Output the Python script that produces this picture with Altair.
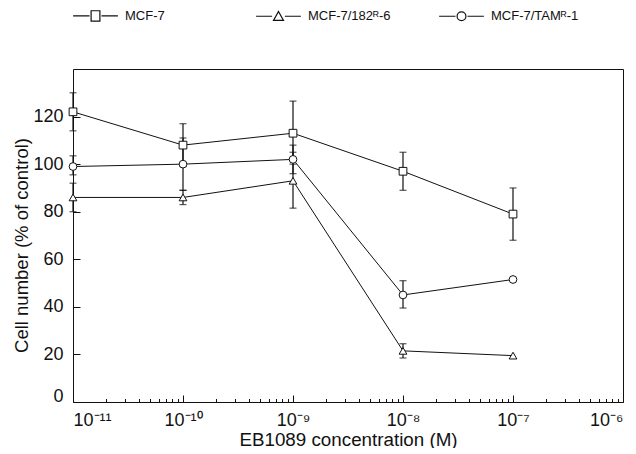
import altair as alt
import pandas as pd

# ---- data ----
conc = [1e-11, 1e-10, 1e-9, 1e-8, 1e-7]
series_names = ["MCF-7", "MCF-7/182ᴿ-6", "MCF-7/TAMᴿ-1"]

mcf7 = [122, 108, 113, 97, 79]
mcf7_lo = [114, 99, 100, 89, 68]
mcf7_hi = [130, 117, 126.5, 105, 90]

r182 = [86, 86, 93, 21.5, 19.5]
r182_lo = [80, 83, 81.5, 18.5, None]
r182_hi = [92, 89, 105, 24.5, None]

tam = [99, 100, 102, 45, 51.5]
tam_lo = [95.5, 89, 96, 39.5, None]
tam_hi = [103.5, 111, 108, 51, None]

y_ticks = [0, 20, 40, 60, 80, 100, 120]
x_exponents = [-11, -10, -9, -8, -7, -6]

# ---- table ----
rows = []
for name, vals, los, his in [
    (series_names[0], mcf7, mcf7_lo, mcf7_hi),
    (series_names[1], r182, r182_lo, r182_hi),
    (series_names[2], tam, tam_lo, tam_hi),
]:
    for c, v, lo, hi in zip(conc, vals, los, his):
        rows.append({"conc": c, "value": v, "lo": lo, "hi": hi, "series": name})
df = pd.DataFrame(rows)

sup = {"-": "⁻", "0": "⁰", "1": "¹", "2": "²", "3": "³", "4": "⁴",
       "5": "⁵", "6": "⁶", "7": "⁷", "8": "⁸", "9": "⁹"}
x_major = [10.0 ** e for e in x_exponents]
x_labels = ["10" + "".join(sup[ch] for ch in str(e)) for e in x_exponents]
x_minor = [k * 10.0 ** e for e in x_exponents[:-1] for k in range(2, 10)]
label_expr = "[" + ",".join("'" + s + "'" for s in x_labels) + "][round(log(datum.value)/LN10) + " + str(-x_exponents[0]) + "]"

W, H = 550, 333
FONT = "Liberation Sans"

xscale = alt.Scale(type="log", domain=[1e-11, 1e-6])
yscale = alt.Scale(domain=[0, 140], nice=False, zero=False)

base = alt.Chart(df)

# main lines with label axes
lines = base.mark_line(color="#111", strokeWidth=1).encode(
    x=alt.X("conc:Q", scale=xscale,
            axis=alt.Axis(orient="bottom", values=x_major, labelExpr=label_expr,
                          ticks=False, domain=False, grid=False,
                          labelFontSize=18, labelPadding=9, labelColor="#111",
                          title="EB1089 concentration (M)", titleFontSize=18.8,
                          titleFontWeight="normal", titleColor="#111",
                          titleY=37, titleBaseline="middle")),
    y=alt.Y("value:Q", scale=yscale,
            axis=alt.Axis(orient="left", values=y_ticks, ticks=False, domain=False,
                          grid=False, labelFontSize=18, labelPadding=10, labelColor="#111",
                          labelOffset={"condition": {"test": "datum.value === 0", "value": -6}, "value": 0},
                          title="Cell number (% of control)", titleFontSize=18.5,
                          titleFontWeight="normal", titleColor="#111",
                          titleX=-52, titleY=176, titleBaseline="middle")),
    detail="series:N",
)

# error bars (vertical rules) carry the minor tick axis
rules = base.transform_filter("isValid(datum.lo)").mark_rule(color="#111", strokeWidth=1.2).encode(
    x=alt.X("conc:Q", scale=xscale,
            axis=alt.Axis(orient="top", offset=-H, values=x_minor, tickSize=3.5,
                          tickColor="#111", labels=False, domain=False, grid=False, title=None)),
    y=alt.Y("lo:Q", scale=yscale, axis=None),
    y2="hi:Q",
)
cap_lo = base.transform_filter("isValid(datum.lo)").mark_tick(
    color="#111", size=7, thickness=1.2, orient="horizontal").encode(
    x=alt.X("conc:Q", scale=xscale, axis=None),
    y=alt.Y("lo:Q", scale=yscale, axis=None),
)
cap_hi = base.transform_filter("isValid(datum.hi)").mark_tick(
    color="#111", size=7, thickness=1.2, orient="horizontal").encode(
    x=alt.X("conc:Q", scale=xscale, axis=None),
    y=alt.Y("hi:Q", scale=yscale, axis=None),
)

# visible markers carry the inward major ticks
points = base.mark_point(filled=False, fill="white", fillOpacity=1, stroke="#111",
                         strokeWidth=1, size=60, opacity=1).encode(
    x=alt.X("conc:Q", scale=xscale,
            axis=alt.Axis(orient="top", offset=-H, values=x_major, tickSize=7,
                          tickColor="#111", labels=False, domain=False, grid=False, title=None)),
    y=alt.Y("value:Q", scale=yscale,
            axis=alt.Axis(orient="right", offset=-W, values=y_ticks, tickSize=7,
                          tickColor="#111", labels=False, domain=False, grid=False, title=None)),
    shape=alt.Shape("series:N", sort=series_names,
                    scale=alt.Scale(domain=series_names,
                                    range=["square", "triangle-up", "circle"]),
                    legend=None),
)

# invisible layer that only supplies the legend (symbol with line through it)
legend_paths = [
    "M-5.6,0H-1.5M1.5,0H5.6M-1.1,-1.3H1.1V1.3H-1.1Z",
    "M-5.6,0H-1.6M1.6,0H5.6M0,-1.2L1.25,1.05H-1.25Z",
    "M-5.6,0H-1.5M1.5,0H5.6M1.1,0A1.1,1.1,0,1,1,-1.1,0A1.1,1.1,0,1,1,1.1,0Z",
]
legend_layer = base.mark_point(opacity=0, size=64).encode(
    x=alt.X("conc:Q", scale=xscale, axis=None),
    y=alt.Y("value:Q", scale=yscale, axis=None),
    shape=alt.Shape("series:N", sort=series_names,
                    scale=alt.Scale(domain=series_names, range=legend_paths),
                    legend=alt.Legend(orient="none", legendX=-2, legendY=-60,
                                      direction="horizontal", columns=3, title=None,
                                      symbolSize=64, symbolOffset=18, labelOffset=23,
                                      symbolOpacity=1, symbolFillColor="white",
                                      symbolStrokeColor="#111", symbolStrokeWidth=1.2,
                                      labelFontSize=13, labelColor="#111",
                                      gridAlign="all", columnPadding=40, padding=0)),
)

chart = alt.layer(lines, rules, cap_lo, cap_hi, points, legend_layer).resolve_axis(
    x="independent", y="independent"
).resolve_scale(shape="independent").properties(
    width=W, height=H,
    autosize=alt.AutoSizeParams(type="none"),
    padding={"left": 65, "top": 61, "right": 5, "bottom": 46},
).configure(font=FONT).configure_view(stroke="#111", strokeWidth=1)

chart.save("out.html", embed_options={"renderer": "svg", "actions": False})
